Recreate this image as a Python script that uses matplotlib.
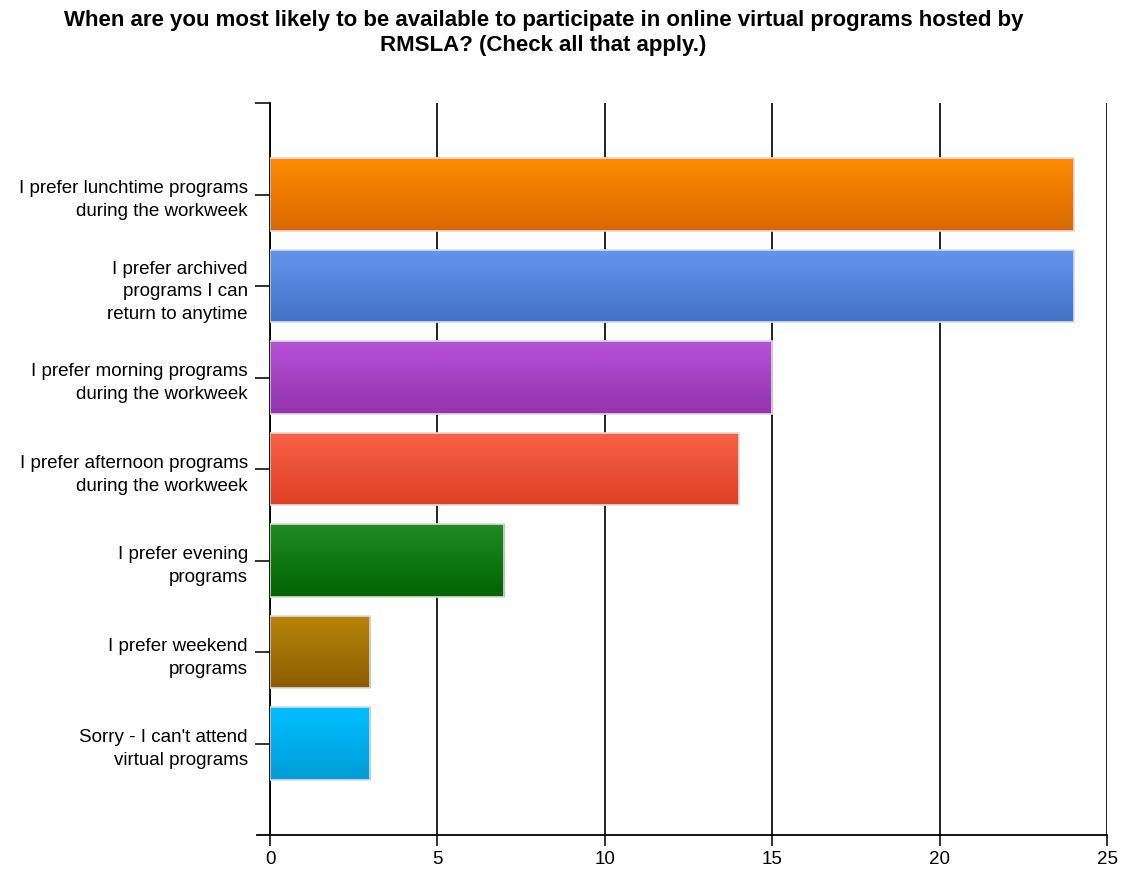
import numpy as np
import matplotlib
matplotlib.use("Agg")
import matplotlib.pyplot as plt
from matplotlib.colors import LinearSegmentedColormap

plt.rcParams['font.family'] = ['Liberation Sans', 'DejaVu Sans']

title = ("When are you most likely to be available to participate in online virtual programs hosted by\n"
         "RMSLA? (Check all that apply.)")
labels = [
    "I prefer lunchtime programs\nduring the workweek",
    "I prefer archived\nprograms I can\nreturn to anytime",
    "I prefer morning programs\nduring the workweek",
    "I prefer afternoon programs\nduring the workweek",
    "I prefer evening\nprograms",
    "I prefer weekend\nprograms",
    "Sorry - I can't attend\nvirtual programs",
]
values = [24, 24, 15, 14, 7, 3, 3]
# (top colour, bottom colour) of each bar's vertical gradient
top_colors = ["#ff8c00", "#6495ed", "#b650d8", "#fa6248", "#228b22", "#b8860b", "#00bfff"]
bottom_colors = ["#d96800", "#4472c8", "#9334ad", "#dc4024", "#006400", "#8c5c00", "#009cd8"]

fig = plt.figure(figsize=(11.25, 8.7), dpi=100)
ax = fig.add_axes([270 / 1125, 1 - 836 / 870, (1107 - 270) / 1125, (836 - 104) / 870])

ypos = np.arange(len(values))
bar_h = 0.79
bars = ax.barh(ypos, values, height=bar_h, facecolor="none", edgecolor="#dcdcdc",
               linewidth=1.2, zorder=3)
grad = np.linspace(0, 1, 256).reshape(-1, 1)
for bar, v, c0, c1 in zip(bars, values, top_colors, bottom_colors):
    y = bar.get_y()
    cmap = LinearSegmentedColormap.from_list("g", [c0, c1])
    im = ax.imshow(grad, cmap=cmap, aspect="auto", origin="upper",
                   extent=(0, v, y + bar_h, y), zorder=2)
    im.set_clip_path(bar)

ax.set_xlim(0, 25)
ax.set_ylim(len(values), -1)
ax.set_aspect("auto")
ax.set_xticks(np.arange(0, 26, 5))
ax.set_yticks(list(ypos) + [-1])
ax.set_yticklabels(labels + [""], fontsize=13.5, linespacing=1.45)
ax.tick_params(axis="x", labelsize=13.5, length=8, width=1.3, color="#222222", pad=3)
ax.tick_params(axis="y", length=11, width=1.3, color="#222222", pad=5)
ax.grid(axis="x", color="#111111", linewidth=1.3, zorder=0)
for s in ["top", "right"]:
    ax.spines[s].set_visible(False)
ax.spines["left"].set_linewidth(1.3)
ax.spines["bottom"].set_linewidth(1.3)
ax.spines["bottom"].set_bounds(-0.4, 25)
ax.spines["bottom"].set_clip_on(False)

fig.text(0.483, 1 - 33 / 870, title, ha="center", va="center", fontsize=16,
         fontweight="bold", linespacing=1.25)

fig.savefig("out.png", dpi=100)
